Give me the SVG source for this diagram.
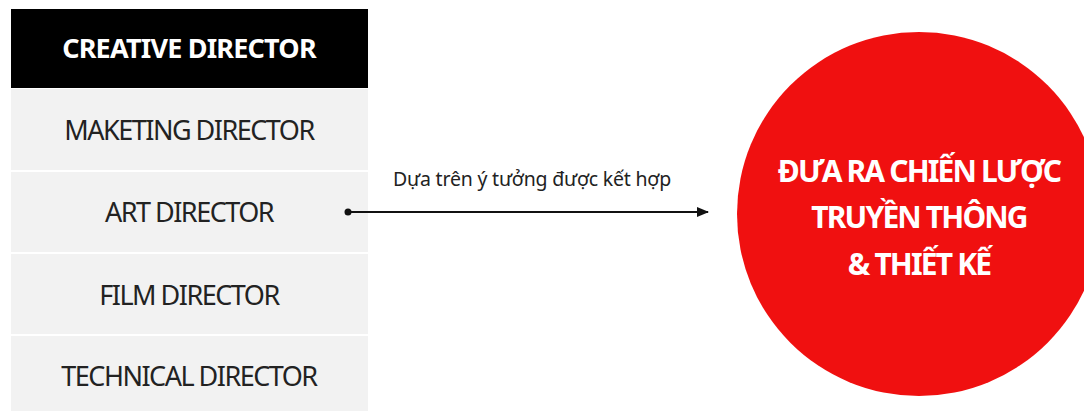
<svg xmlns="http://www.w3.org/2000/svg" width="1084" height="411" viewBox="0 0 1084 411">
<style>
.box{fill:#f2f2f2}
.lbl{font-family:"Noto Sans","Liberation Sans",sans-serif;font-size:27px;fill:#222;text-anchor:middle;letter-spacing:-1.5px}
.big{font-family:"Noto Sans","Liberation Sans",sans-serif;font-size:30px;font-weight:bold;fill:#fff;text-anchor:middle;letter-spacing:-1.85px}
</style>
<defs>
<marker id="ah" markerWidth="12" markerHeight="10" refX="11" refY="5" orient="auto" markerUnits="userSpaceOnUse">
<path d="M0,0 L12,5 L0,10 Z" fill="#111"/>
</marker>
</defs>
<rect width="1084" height="411" fill="#fff"/>
<g id="creative">
<rect x="11" y="9" width="357" height="79" fill="#000"/>
<text class="lbl" x="189" y="58" style="fill:#fff;font-weight:bold;letter-spacing:-0.8px">CREATIVE DIRECTOR</text>
</g>
<g id="marketing">
<rect class="box" x="11" y="89" width="357" height="81"/>
<text class="lbl" x="189" y="140">MAKETING DIRECTOR</text>
</g>
<g id="art">
<rect class="box" x="11" y="172" width="357" height="80"/>
<text class="lbl" x="189" y="222">ART DIRECTOR</text>
</g>
<g id="film">
<rect class="box" x="11" y="254" width="357" height="80"/>
<text class="lbl" x="189" y="305">FILM DIRECTOR</text>
</g>
<g id="technical">
<rect class="box" x="11" y="336" width="357" height="80"/>
<text class="lbl" x="189" y="386">TECHNICAL DIRECTOR</text>
</g>
<g id="connectors">
<circle cx="348" cy="212" r="3.5" fill="#111"/>
<line x1="348" y1="212" x2="708" y2="212" stroke="#111" stroke-width="2" marker-end="url(#ah)"/>
<text x="532" y="186" font-family="'Noto Sans','Liberation Sans',sans-serif" font-size="19.5" fill="#222" text-anchor="middle" letter-spacing="-0.2">Dựa trên ý tưởng được kết hợp</text>
</g>
<g id="strategy">
<circle cx="919" cy="214" r="182" fill="#f01010"/>
<text class="big" x="919" y="182">ĐƯA RA CHIẾN LƯỢC</text>
<text class="big" x="919" y="228">TRUYỀN THÔNG</text>
<text class="big" x="919" y="275">&amp; THIẾT KẾ</text>
</g>
</svg>
